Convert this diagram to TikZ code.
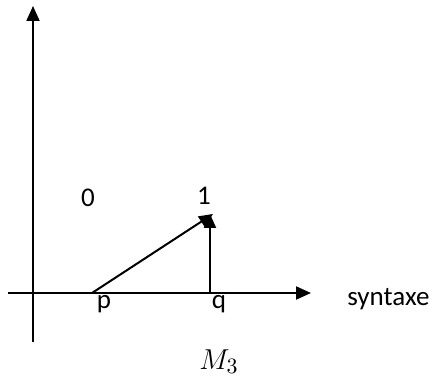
\documentclass[tikz,border=0pt]{standalone}
\usepackage{fontspec}
\setmainfont{Carlito}
\usetikzlibrary{arrows.meta,positioning}

\begin{document}
\begin{tikzpicture}[x=0.5pt, y=-0.5pt,
  axis/.style={-{Triangle[length=7.5pt,width=6.5pt]}, line width=1pt},
  arr/.style={-{Triangle[length=7pt,width=6pt]}, line width=1pt},
  lbl/.style={font=\fontsize{13.5}{15}\selectfont, inner sep=0pt}
]
  \useasboundingbox (0,0) rectangle (435,385);
  % axes
  \coordinate (ybot) at (33,342);
  \coordinate (ytop) at (33,6);
  \coordinate (xleft) at (8,293);
  \coordinate (xright) at (311,293);
  \draw[axis] (ybot) -- (ytop);
  \draw[axis] (xleft) -- (xright);

  % points on the axis
  \coordinate (p) at (92,293);
  \coordinate (q) at (210,293);
  \coordinate (tip) at (213,214);
  \node[lbl, anchor=base] (plbl) at (104,309) {p};
  \node[lbl, anchor=base] (qlbl) at (219,309) {q};
  \node[lbl, anchor=base west] (syn) at (347,306) {syntaxe};

  \draw[arr] (p) -- (tip);
  \draw[arr] (q) -- (q |- tip);

  \node[lbl] (zero) at (88,198) {0};
  \node[lbl] (one) at (204,196) {1};
  \node[font=\fontsize{15}{17}\selectfont, inner sep=0pt] (m3) at (219,362) {$M_3$};
\end{tikzpicture}
\end{document}
